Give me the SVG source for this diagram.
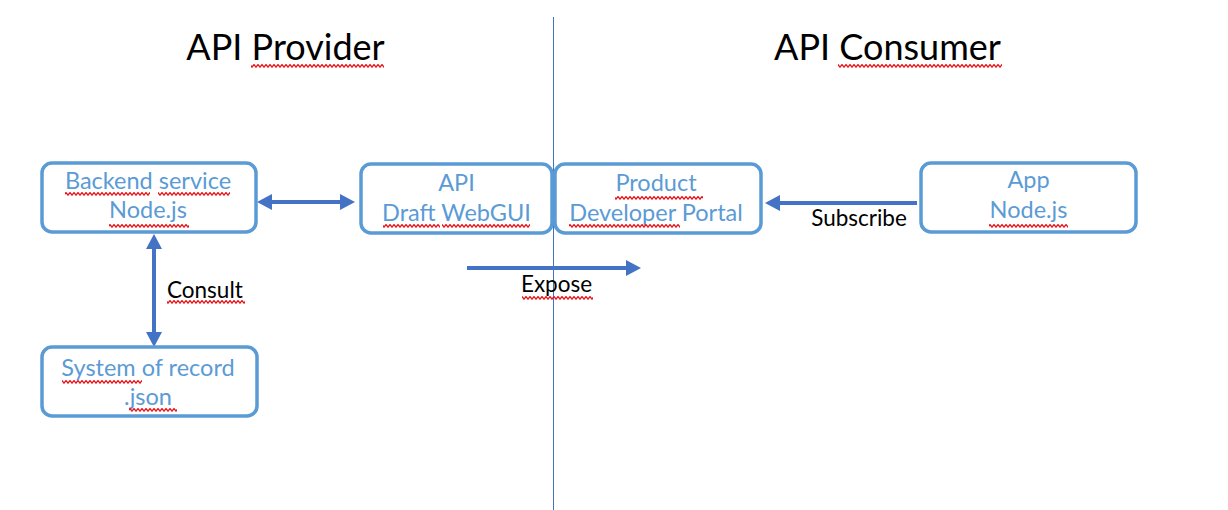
<svg xmlns="http://www.w3.org/2000/svg" width="1228" height="510" viewBox="0 0 1228 510">
  <style>
    text { font-family: Lato, "Liberation Sans", sans-serif; }
    .title { font-size: 36px; fill: #000; text-anchor: middle; }
    .node rect { fill: #fff; stroke: #5B9BD5; stroke-width: 3.5; }
    .node text { font-size: 23.5px; fill: #5B9BD5; text-anchor: middle; }
    .conn line { stroke: #4472C4; stroke-width: 4; fill: none; }
    .label { font-size: 22.5px; fill: #000; }
    .sq { fill: url(#squiggle); }
  </style>
  <defs>
    <marker id="head" viewBox="0 0 15 16" markerWidth="15" markerHeight="16" refX="3" refY="8" orient="auto-start-reverse" markerUnits="userSpaceOnUse">
      <path d="M0,0 L15,8 L0,16 z" fill="#4472C4"/>
    </marker>
    <pattern id="squiggle" patternUnits="userSpaceOnUse" width="4" height="4">
      <path d="M-1,4.4 L2,0.6 L5,4.4" fill="none" stroke="#E8141B" stroke-width="1.3"/>
    </pattern>
  </defs>
  <rect width="1228" height="510" fill="#fff"/>

  <line x1="553.5" y1="17" x2="553.5" y2="510" stroke="#4472C4" stroke-width="1"/>

  <text class="title" x="285.5" y="60">API Provider</text>
  <text class="title" x="887.5" y="60">API Consumer</text>

  <g id="connectors" class="conn">
    <line x1="269" y1="202" x2="343" y2="202" marker-start="url(#head)" marker-end="url(#head)"/>
    <line x1="154" y1="246" x2="154" y2="335" marker-start="url(#head)" marker-end="url(#head)"/>
    <line x1="467" y1="268" x2="629" y2="268" marker-end="url(#head)"/>
    <line x1="917" y1="203" x2="777" y2="203" marker-end="url(#head)"/>
    <text class="label" x="167" y="298">Consult</text>
    <text class="label" x="556.5" y="292" text-anchor="middle">Expose</text>
    <text class="label" x="859" y="226" text-anchor="middle">Subscribe</text>
  </g>

  <g id="backend" class="node">
    <rect x="42" y="163" width="214" height="69" rx="10"/>
    <text x="148" y="189">Backend service</text>
    <text x="148" y="218">Node.js</text>
  </g>
  <g id="api" class="node">
    <rect x="361" y="164" width="191" height="69" rx="10"/>
    <text x="456.5" y="191">API</text>
    <text x="456.5" y="221">Draft WebGUI</text>
  </g>
  <g id="product" class="node">
    <rect x="555" y="164" width="206" height="69" rx="10"/>
    <text x="656" y="191">Product</text>
    <text x="656" y="221">Developer Portal</text>
  </g>
  <g id="app" class="node">
    <rect x="921" y="163" width="215" height="69" rx="10"/>
    <text x="1028.5" y="188">App</text>
    <text x="1028.5" y="218">Node.js</text>
  </g>
  <g id="system-of-record" class="node">
    <rect x="42" y="347" width="215" height="69" rx="10"/>
    <text x="148" y="376">System of record</text>
    <text x="148" y="405">.json</text>
  </g>

  <g id="spellcheck">
    <rect class="sq" x="251" y="64" width="133" height="4"/>
    <rect class="sq" x="838" y="64" width="164" height="4"/>
    <rect class="sq" x="65" y="192" width="85" height="4"/>
    <rect class="sq" x="158" y="192" width="72" height="4"/>
    <rect class="sq" x="109" y="224" width="80" height="4"/>
    <rect class="sq" x="383" y="224" width="57" height="4"/>
    <rect class="sq" x="442" y="224" width="88" height="4"/>
    <rect class="sq" x="615" y="196" width="88" height="4"/>
    <rect class="sq" x="569" y="224" width="111" height="4"/>
    <rect class="sq" x="989" y="224" width="79" height="4"/>
    <rect class="sq" x="167" y="300" width="78" height="4"/>
    <rect class="sq" x="62" y="380" width="80" height="4"/>
    <rect class="sq" x="129" y="408" width="48" height="4"/>
    <rect class="sq" x="522" y="296" width="71" height="4"/>
  </g>
</svg>
